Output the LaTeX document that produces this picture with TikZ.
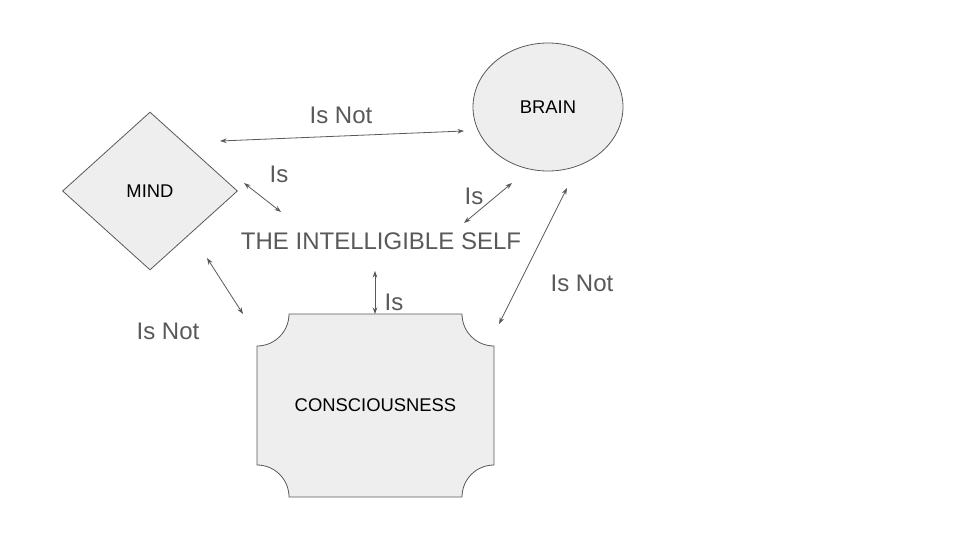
\documentclass[tikz,border=0pt]{standalone}
\usepackage{fontspec}
\setmainfont{Liberation Sans}
\usetikzlibrary{arrows.meta,shapes.geometric}
\definecolor{shapefill}{HTML}{EEEEEE}
\definecolor{linegray}{HTML}{595959}

\begin{document}
\begin{tikzpicture}[x=0.75pt,y=0.75pt,>={Stealth[length=5pt,width=3.5pt]},
 s/.style={draw=linegray,fill=shapefill,line width=0.6pt,inner sep=0pt,font=\fontsize{13.8}{16}\selectfont},
 lbl/.style={text=linegray,inner sep=0pt,font=\fontsize{18}{21}\selectfont},
 rel/.style={<->,draw=linegray,line width=0.6pt}]
\useasboundingbox (0,0) rectangle (960,540);
\node[s,diamond,aspect=1.11,minimum width=131.25pt,minimum height=118.5pt] (mind) at (150,349) {MIND};
\node[s,ellipse,minimum width=112.5pt,minimum height=96pt] (brain) at (548,433) {BRAIN};
\draw[s] (289,226) -- (462,226) arc[start angle=180,end angle=270,radius=24pt]
 -- (494,75) arc[start angle=90,end angle=180,radius=24pt]
 -- (289,43) arc[start angle=0,end angle=90,radius=24pt]
 -- (257,194) arc[start angle=270,end angle=360,radius=24pt] -- cycle;
\node[font=\fontsize{13.8}{16}\selectfont,inner sep=0pt] (consc) at (375.5,134.5) {CONSCIOUSNESS};
\node[lbl] (self) at (381,299) {THE INTELLIGIBLE SELF};
% arrow ends
\coordinate (mb1) at (220,399);
\coordinate (mb2) at (464,409);
\coordinate (ms1) at (244,357);
\coordinate (ms2) at (281,328);
\coordinate (mc1) at (207,282);
\coordinate (mc2) at (243,226);
\coordinate (sb1) at (464,317);
\coordinate (sb2) at (512,357);
\coordinate (bc1) at (567,352);
\coordinate (bc2) at (499,216);
\coordinate (sc1) at (375,269);
\coordinate (sc2) at (375,226);
\draw[rel] (mb1) -- (mb2);
\draw[rel] (ms1) -- (ms2);
\draw[rel] (mc1) -- (mc2);
\draw[rel] (sb1) -- (sb2);
\draw[rel] (bc1) -- (bc2);
\draw[rel] (sc1) -- (sc2);
\node[lbl] (lmb) at (341,425) {Is Not};
\node[lbl] (lms) at (279,366) {Is};
\node[lbl] (lmc) at (168,209) {Is Not};
\node[lbl] (lsb) at (474,344) {Is};
\node[lbl] (lbc) at (582,257) {Is Not};
\node[lbl] (lsc) at (394,238) {Is};
\end{tikzpicture}
\end{document}
